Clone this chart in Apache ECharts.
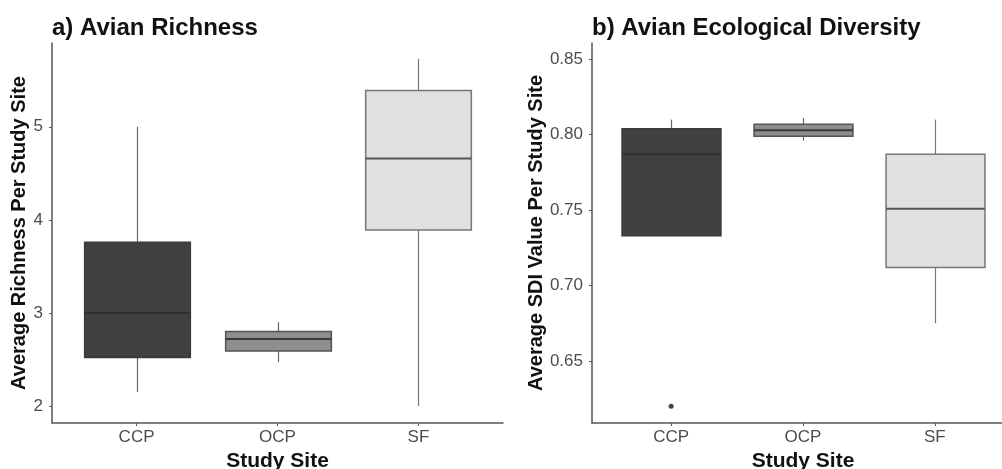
<!DOCTYPE html>
<html>
<head>
<meta charset="utf-8">
<script src="https://cdn.jsdelivr.net/npm/echarts@6/dist/echarts.min.js"></script>
<style>
  html, body { margin: 0; padding: 0; background: #fff; }
  #chart { width: 1002px; height: 469px; }
</style>
</head>
<body>
<div id="chart"></div>
<script>
// Study sites on the x axis
const sites = ['CCP', 'OCP', 'SF'];

// Richness per site: [lower whisker, Q1, median, Q3, upper whisker]
const richnessCCP = [2.15, 2.52, 3.00, 3.76, 5.00];
const richnessOCP = [2.47, 2.59, 2.72, 2.80, 2.90];
const richnessSF  = [2.00, 3.89, 4.66, 5.39, 5.73];

// Shannon diversity index per site: [lower whisker, Q1, median, Q3, upper whisker]
const sdiCCP = [0.733, 0.733, 0.787, 0.804, 0.810];
const sdiOCP = [0.796, 0.799, 0.803, 0.807, 0.811];
const sdiSF  = [0.675, 0.712, 0.751, 0.787, 0.810];

// Outliers: [site position, value]
const sdiOutliers = [[1, 0.620]];

// Tick labels
const richnessTicks = [2, 3, 4, 5];
const sdiTicks = [0.65, 0.70, 0.75, 0.80, 0.85];

const fills = ['#404040', '#8e8e8e', '#e0e0e0'];
const borders = ['#3a3a3a', '#555555', '#777777'];
const medians = ['#303030', '#3a3a3a', '#555555'];
const whiskerColors = ['#666666', '#666666', '#777777'];

const siteRows = (list) => list.map((v, i) => [i + 1].concat(v));

function renderBox(params, api) {
  const x = api.value(0);
  const i = params.dataIndex;
  const lo = api.coord([x, api.value(1)]);
  const q1 = api.coord([x, api.value(2)]);
  const md = api.coord([x, api.value(3)]);
  const q3 = api.coord([x, api.value(4)]);
  const hi = api.coord([x, api.value(5)]);
  const half = api.size([0.75, 0])[0] / 2;
  const cx = Math.round(md[0]) + 0.5;
  const wStyle = { stroke: whiskerColors[i], lineWidth: 1.2 };
  return {
    type: 'group',
    children: [
      { type: 'line', shape: { x1: cx, y1: hi[1], x2: cx, y2: q3[1] }, style: wStyle },
      { type: 'line', shape: { x1: cx, y1: q1[1], x2: cx, y2: lo[1] }, style: wStyle },
      {
        type: 'rect',
        shape: { x: cx - half, y: q3[1], width: half * 2, height: q1[1] - q3[1] },
        style: { fill: fills[i], stroke: borders[i], lineWidth: 1.5 }
      },
      {
        type: 'line',
        shape: { x1: cx - half, y1: md[1], x2: cx + half, y2: md[1] },
        style: { stroke: medians[i], lineWidth: 2 }
      }
    ]
  };
}

const font = 'Liberation Sans, Arial, sans-serif';

function xAxisFor(gridIndex) {
  return {
    type: 'value', gridIndex, min: 0.4, max: 3.6,
    splitLine: { show: false },
    axisLine: { show: true, lineStyle: { color: '#555', width: 1.5 } },
    axisTick: { show: true, length: 3, customValues: [1, 2, 3], lineStyle: { color: '#555' } },
    axisLabel: {
      customValues: [1, 2, 3], margin: 6,
      formatter: (v) => sites[Math.round(v) - 1] || '',
      color: '#4d4d4d', fontSize: 17, fontFamily: font
    },
    name: 'Study Site', nameLocation: 'middle', nameGap: 26,
    nameTextStyle: { fontWeight: 'bold', fontSize: 21, color: '#111', fontFamily: font }
  };
}

function yAxisFor(gridIndex, min, max, ticks, digits, name, gap) {
  return {
    type: 'value', gridIndex, min, max,
    splitLine: { show: false },
    axisLine: { show: true, lineStyle: { color: '#555', width: 1.5 } },
    axisTick: { show: true, length: 3, customValues: ticks, lineStyle: { color: '#555' } },
    axisLabel: {
      customValues: ticks, margin: 9,
      formatter: (v) => v.toFixed(digits),
      color: '#4d4d4d', fontSize: 17, fontFamily: font
    },
    name, nameLocation: 'middle', nameGap: gap,
    nameTextStyle: { fontWeight: 'bold', fontSize: 20, color: '#111', fontFamily: font }
  };
}

const chart = echarts.init(document.getElementById('chart'), null, { renderer: 'canvas' });
chart.setOption({
  backgroundColor: '#ffffff',
  animation: false,
  title: [
    { text: 'a) Avian Richness', left: 47, top: 11,
      textStyle: { fontSize: 24, fontWeight: 'bold', color: '#111', fontFamily: font } },
    { text: 'b) Avian Ecological Diversity', left: 587, top: 11,
      textStyle: { fontSize: 24, fontWeight: 'bold', color: '#111', fontFamily: font } }
  ],
  grid: [
    { left: 52, top: 43, width: 451, height: 380, outerBoundsMode: 'none' },
    { left: 592, top: 43, width: 422, height: 380, outerBoundsMode: 'none' }
  ],
  xAxis: [xAxisFor(0), xAxisFor(1)],
  yAxis: [
    yAxisFor(0, 1.817, 5.90, richnessTicks, 0, 'Average Richness Per Study Site', 20),
    yAxisFor(1, 0.6089, 0.8608, sdiTicks, 2, 'Average SDI Value Per Study Site', 46)
  ],
  series: [
    {
      type: 'custom', xAxisIndex: 0, yAxisIndex: 0, renderItem: renderBox,
      encode: { x: 0, y: [1, 2, 3, 4, 5] },
      data: siteRows([richnessCCP, richnessOCP, richnessSF])
    },
    {
      type: 'custom', xAxisIndex: 1, yAxisIndex: 1, renderItem: renderBox,
      encode: { x: 0, y: [1, 2, 3, 4, 5] },
      data: siteRows([sdiCCP, sdiOCP, sdiSF])
    },
    {
      type: 'scatter', xAxisIndex: 1, yAxisIndex: 1, symbolSize: 5,
      itemStyle: { color: '#111' }, data: sdiOutliers
    }
  ]
});
</script>
</body>
</html>
